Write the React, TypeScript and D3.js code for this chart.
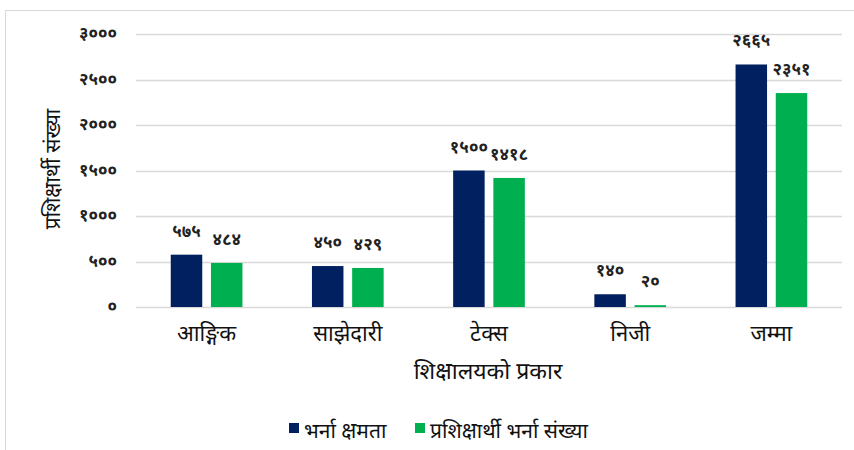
import React, { useRef, useEffect } from 'react';
import * as d3 from 'd3';

const categories = ['आङ्गिक', 'साझेदारी', 'टेक्स', 'निजी', 'जम्मा'];
const capacity = [575, 450, 1500, 140, 2665];
const enrolled = [484, 429, 1418, 20, 2351];
const capacityLabels = ['५७५', '४५०', '१५००', '१४०', '२६६५'];
const enrolledLabels = ['४८४', '४२९', '१४१८', '२०', '२३५१'];
const yTicks = [0, 500, 1000, 1500, 2000, 2500, 3000];
const yTickLabels = ['०', '५००', '१०००', '१५००', '२०००', '२५००', '३०००'];
const seriesNames = ['भर्ना क्षमता', 'प्रशिक्षार्थी भर्ना संख्या'];
const colors = ['#002060', '#00B050'];

const FONT = '"Noto Sans", "Noto Sans Devanagari", sans-serif';

const App = () => {
  const svgRef = useRef<SVGSVGElement>(null);

  useEffect(() => {
    const svg = d3.select(svgRef.current);
    const width = 854;
    const height = 450;
    const margin = { top: 34, right: 12, bottom: 143, left: 136 };

    svg.selectAll('*').remove();

    svg.append('rect')
      .attr('x', 5.5).attr('y', 10.5)
      .attr('width', 860).attr('height', 460)
      .attr('fill', '#fff').attr('stroke', '#d9d9d9');

    const x = d3.scaleBand()
      .domain(categories)
      .range([margin.left, width - margin.right]);

    const y = d3.scaleLinear()
      .domain([0, 3000])
      .range([height - margin.bottom, margin.top]);

    const barW = 31.5;
    const gap = 8.7;

    // gridlines
    svg.append('g')
      .selectAll('line')
      .data(yTicks)
      .join('line')
      .attr('x1', margin.left).attr('x2', width - margin.right)
      .attr('y1', d => Math.round(y(d)) + 0.5).attr('y2', d => Math.round(y(d)) + 0.5)
      .attr('stroke', '#d9d9d9').attr('stroke-width', 1.5);

    // y tick labels
    svg.append('g')
      .selectAll('text')
      .data(yTicks)
      .join('text')
      .attr('x', 117)
      .attr('y', d => y(d) + 5)
      .attr('text-anchor', 'end')
      .attr('font-family', FONT)
      .attr('font-size', 17)
      .attr('font-weight', 'bold')
      .attr('fill', '#222')
      .text((d, i) => yTickLabels[i]);

    const series = [capacity, enrolled];
    const seriesLabels = [capacityLabels, enrolledLabels];

    series.forEach((vals, s) => {
      const g = svg.append('g');
      const bx = (c: string) => x(c)! + x.bandwidth() / 2 + (s === 0 ? -gap / 2 - barW : gap / 2);
      g.selectAll('rect')
        .data(categories)
        .join('rect')
        .attr('x', d => bx(d))
        .attr('y', (d, i) => y(vals[i]))
        .attr('width', barW)
        .attr('height', (d, i) => y(0) - y(vals[i]))
        .attr('fill', colors[s]);
      g.selectAll('text')
        .data(categories)
        .join('text')
        .attr('x', d => bx(d) + barW / 2)
        .attr('y', (d, i) => y(vals[i]) - 18)
        .attr('text-anchor', 'middle')
        .attr('font-family', FONT)
        .attr('font-size', 17)
        .attr('font-weight', 'bold')
        .attr('fill', '#222')
        .text((d, i) => seriesLabels[s][i]);
    });

    // category labels
    svg.append('g')
      .selectAll('text')
      .data(categories)
      .join('text')
      .attr('x', d => x(d)! + x.bandwidth() / 2)
      .attr('y', 341)
      .attr('text-anchor', 'middle')
      .attr('font-family', FONT)
      .attr('font-size', 22)
      .attr('fill', '#111')
      .text(d => d);

    // axis titles
    svg.append('text')
      .attr('transform', `translate(60,${169}) rotate(-90)`)
      .attr('text-anchor', 'middle')
      .attr('font-family', FONT)
      .attr('font-size', 21)
      .attr('fill', '#111')
      .text('प्रशिक्षार्थी संख्या');

    svg.append('text')
      .attr('x', 488)
      .attr('y', 379)
      .attr('text-anchor', 'middle')
      .attr('font-family', FONT)
      .attr('font-size', 23)
      .attr('fill', '#111')
      .text('शिक्षालयको प्रकार');

    // legend
    const legendX = [289, 415];
    seriesNames.forEach((name, i) => {
      svg.append('rect')
        .attr('x', legendX[i]).attr('y', 423)
        .attr('width', 10).attr('height', 10)
        .attr('fill', colors[i]);
      svg.append('text')
        .attr('x', legendX[i] + 15)
        .attr('y', 438)
        .attr('font-family', FONT)
        .attr('font-size', 21)
        .attr('fill', '#111')
        .text(name);
    });
  }, []);

  return (
    <svg ref={svgRef} width={854} height={450}
      style={{ position: 'absolute', left: 0, top: 0 }} />
  );
};

export default App;
